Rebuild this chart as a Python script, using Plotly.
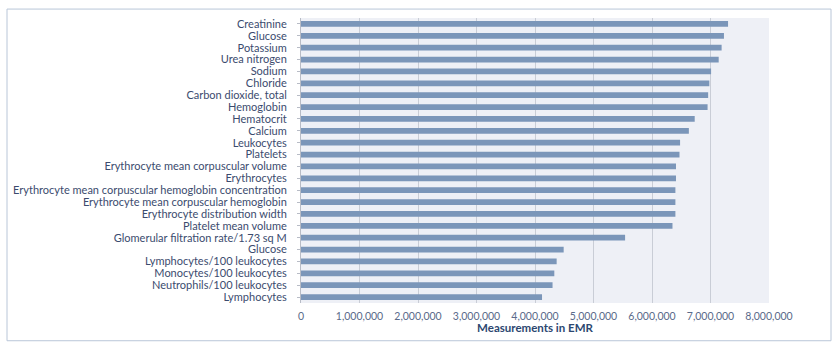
import plotly.graph_objects as go

labels = [
    "Creatinine", "Glucose", "Potassium", "Urea nitrogen", "Sodium", "Chloride",
    "Carbon dioxide, total", "Hemoglobin", "Hematocrit", "Calcium", "Leukocytes",
    "Platelets", "Erythrocyte mean corpuscular volume", "Erythrocytes",
    "Erythrocyte mean corpuscular hemoglobin concentration",
    "Erythrocyte mean corpuscular hemoglobin", "Erythrocyte distribution width",
    "Platelet mean volume", "Glomerular filtration rate/1.73 sq M", "Glucose",
    "Lymphocytes/100 leukocytes", "Monocytes/100 leukocytes",
    "Neutrophils/100 leukocytes", "Lymphocytes",
]
values = [
    7300000, 7230000, 7190000, 7140000, 7010000, 6980000,
    6960000, 6950000, 6730000, 6630000, 6480000,
    6470000, 6410000, 6410000,
    6400000,
    6400000, 6400000,
    6350000, 5540000, 4490000,
    4370000, 4330000,
    4300000, 4120000,
]
x_ticks = [0, 1000000, 2000000, 3000000, 4000000, 5000000, 6000000, 7000000, 8000000]
positions = list(range(len(labels)))

fig = go.Figure(go.Bar(
    x=values, y=positions, orientation="h",
    marker=dict(color="#7b96b9", line=dict(width=0)),
    width=0.48,
))

W, H = 832, 344
ml, mr, mt, mb = 301, 63, 18, 39
pw, ph = W - ml - mr, H - mt - mb

fig.update_layout(
    width=W, height=H,
    margin=dict(l=ml, r=mr, t=mt, b=mb, pad=0),
    paper_bgcolor="white",
    plot_bgcolor="#eef0f6",
    showlegend=False,
    font=dict(family="Lato, Open Sans, sans-serif", size=10, color="#3b4b6e"),
    xaxis=dict(
        range=[0, 8000000], tickvals=x_ticks,
        tickformat=",d", showgrid=True, gridcolor="#c9cdd6", gridwidth=1,
        zeroline=False, showline=False,
        tickfont=dict(size=10.5, color="#5a6a8a"),
        title=dict(text="<b>Measurements in EMR</b>", font=dict(size=11.5, color="#2c4770"), standoff=2),
        ticks="", ticklabelstandoff=5,
    ),
    yaxis=dict(
        tickvals=positions, ticktext=labels,
        range=[len(labels) - 0.5, -0.5],
        showgrid=False, zeroline=False,
        showline=True, linecolor="#b8bcc6", linewidth=1,
        ticks="outside", ticklen=3, tickcolor="#b8bcc6",
        tickfont=dict(size=11, color="#3b4b6e"),
        ticklabelstandoff=8,
    ),
    bargap=0.5,
    shapes=[
        dict(type="rect", xref="paper", yref="paper",
             x0=(7 - ml) / pw, x1=(831 - ml) / pw,
             y0=(H - mb - 343) / ph,
             y1=(H - mb - 9) / ph,
             line=dict(color="#b9c6d8", width=1), fillcolor="rgba(0,0,0,0)", layer="below"),
    ],
)

fig.write_html("out.html")
